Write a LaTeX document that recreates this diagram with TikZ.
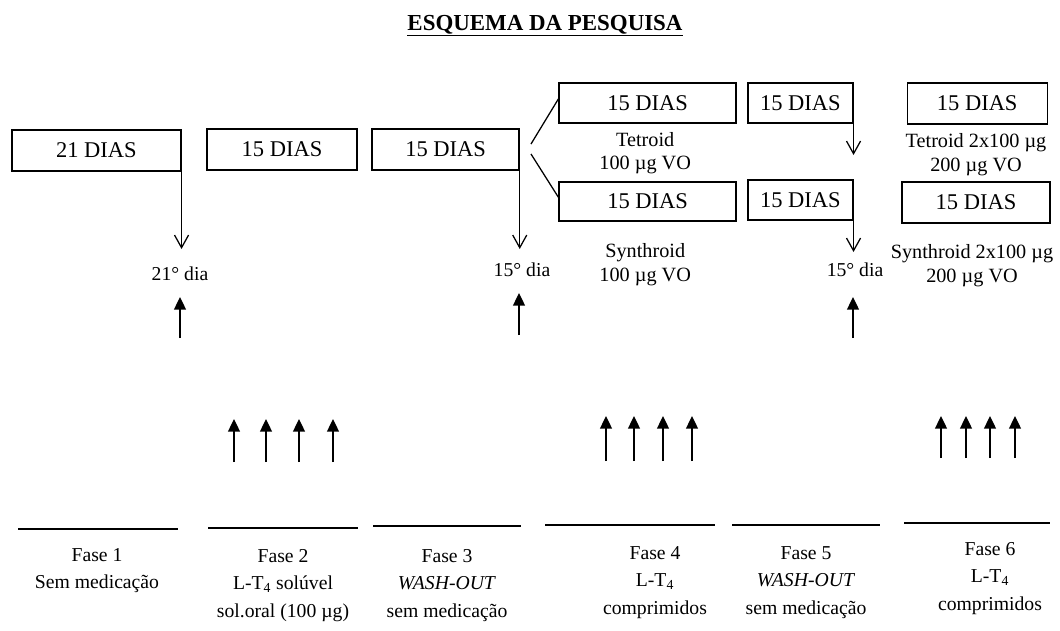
\documentclass[tikz,border=0pt]{standalone}
\usepackage{fontspec}
\setmainfont{Liberation Serif}
\usetikzlibrary{arrows.meta}

\begin{document}
\begin{tikzpicture}[
    box/.style={rectangle, draw, line width=0.9pt, minimum height=1.025cm, inner sep=0pt, font=\fontsize{16}{19}\selectfont},
    drug/.style={align=center, inner sep=0pt, font=\fontsize{14.4}{17}\selectfont},
    dia/.style={inner sep=0pt, font=\fontsize{14}{17}\selectfont},
    fase/.style={align=center, anchor=north, inner sep=0pt, font=\fontsize{14}{19.5}\selectfont},
    down/.style={-{Straight Barb[length=9pt,width=10pt]}, line width=0.9pt},
    up/.style={-{Triangle[length=9pt,width=8.5pt]}, line width=1pt},
    fline/.style={line width=1.4pt}
]
\useasboundingbox (0,0) rectangle (26.5,-15.75);

% Title
\node[font=\fontsize{16.3}{19}\selectfont\bfseries, anchor=base] (title) at (13.625,-0.75) {\underline{ESQUEMA DA PESQUISA}};

% Periods
\node[box, minimum width=4.225cm] (d1) at (2.41,-3.76) {21 DIAS};
\node[box, minimum width=3.75cm] (d2) at (7.05,-3.74) {15 DIAS};
\node[box, minimum width=3.675cm] (d3) at (11.14,-3.74) {15 DIAS};
\node[box, minimum width=4.425cm, minimum height=1cm] (d4a) at (16.19,-2.575) {15 DIAS};
\node[box, minimum width=4.425cm, minimum height=0.975cm] (d4b) at (16.19,-5.04) {15 DIAS};
\node[box, minimum width=2.625cm, minimum height=1cm] (d5a) at (20.01,-2.575) {15 DIAS};
\node[box, minimum width=2.625cm, minimum height=1cm] (d5b) at (20.01,-5.0) {15 DIAS};
\node[box, minimum width=3.5cm] (d6a) at (24.43,-2.59) {15 DIAS};
\node[box, minimum width=3.7cm] (d6b) at (24.40,-5.06) {15 DIAS};

% Drugs
\node[drug] (tet4) at (16.13,-3.83) {Tetroid\\100 µg VO};
\node[drug] (syn4) at (16.13,-6.61) {Synthroid\\100 µg VO};
\node[drug] (tet6) at (24.4,-3.875) {Tetroid 2x100 µg\\200 µg VO};
\node[drug] (syn6) at (24.3,-6.65) {Synthroid 2x100 µg\\200 µg VO};

% Branch to phase 4
\coordinate (br1) at (13.275,-3.6);
\coordinate (br2) at (13.275,-3.85);
\draw[line width=0.9pt] (br1) -- ([yshift=3pt]d4a.west);
\draw[line width=0.9pt] (br2) -- ([yshift=3pt]d4b.west);

% Collection days
\node[dia] (dia1) at (4.5,-6.85) {21° dia};
\node[dia] (dia3) at (13.05,-6.75) {15° dia};
\node[dia] (dia5) at (21.375,-6.75) {15° dia};

\coordinate (t1) at (d1.south east |- 0,-6.225);
\coordinate (t3) at (d3.south east |- 0,-6.225);
\coordinate (t5a) at (d5a.south east |- 0,-3.875);
\coordinate (t5b) at (d5b.south east |- 0,-6.3);
\draw[down] (d1.south east) -- (t1);
\draw[down] (d3.south east) -- (t3);
\draw[down] (d5a.south east) -- (t5a);
\draw[down] (d5b.south east) -- (t5b);

\coordinate (u1b) at (4.5,-8.45);
\coordinate (u1t) at (4.5,-7.425);
\coordinate (u3b) at (12.975,-8.375);
\coordinate (u3t) at (12.975,-7.325);
\coordinate (u5b) at (21.325,-8.45);
\coordinate (u5t) at (21.325,-7.425);
\draw[up] (u1b) -- (u1t);
\draw[up] (u3b) -- (u3t);
\draw[up] (u5b) -- (u5t);

% Doses
\foreach \x [count=\i] in {5.85,6.65,7.475,8.325} {
  \coordinate (a2b\i) at (\x,-11.55);
  \coordinate (a2t\i) at (\x,-10.475);
  \draw[up] (a2b\i) -- (a2t\i);
}
\foreach \x [count=\i] in {15.15,15.85,16.575,17.3} {
  \coordinate (a4b\i) at (\x,-11.525);
  \coordinate (a4t\i) at (\x,-10.4);
  \draw[up] (a4b\i) -- (a4t\i);
}
\foreach \x [count=\i] in {23.525,24.15,24.75,25.375} {
  \coordinate (a6b\i) at (\x,-11.45);
  \coordinate (a6t\i) at (\x,-10.4);
  \draw[up] (a6b\i) -- (a6t\i);
}

% Phase lines
\draw[fline] (0.45,-13.225) coordinate (f1l) -- (4.45,-13.225) coordinate (f1r);
\draw[fline] (5.2,-13.2) coordinate (f2l) -- (8.95,-13.2) coordinate (f2r);
\draw[fline] (9.325,-13.15) coordinate (f3l) -- (13.025,-13.15) coordinate (f3r);
\draw[fline] (13.625,-13.125) coordinate (f4l) -- (17.875,-13.125) coordinate (f4r);
\draw[fline] (18.3,-13.125) coordinate (f5l) -- (22.0,-13.125) coordinate (f5r);
\draw[fline] (22.6,-13.075) coordinate (f6l) -- (26.25,-13.075) coordinate (f6r);

% Phases
\node[fase] (fase1) at (2.425,-13.7) {Fase 1\\Sem medicação};
\node[fase] (fase2) at (7.075,-13.725) {Fase 2\\L-T\textsubscript{4} solúvel\\sol.oral (100 µg)};
\node[fase] (fase3) at (11.175,-13.725) {Fase 3\\\textit{WASH-OUT}\\sem medicação};
\node[fase] (fase4) at (16.375,-13.65) {Fase 4\\L-T\textsubscript{4}\\comprimidos};
\node[fase] (fase5) at (20.15,-13.65) {Fase 5\\\textit{WASH-OUT}\\sem medicação};
\node[fase] (fase6) at (24.75,-13.55) {Fase 6\\L-T\textsubscript{4}\\comprimidos};

\end{tikzpicture}
\end{document}
